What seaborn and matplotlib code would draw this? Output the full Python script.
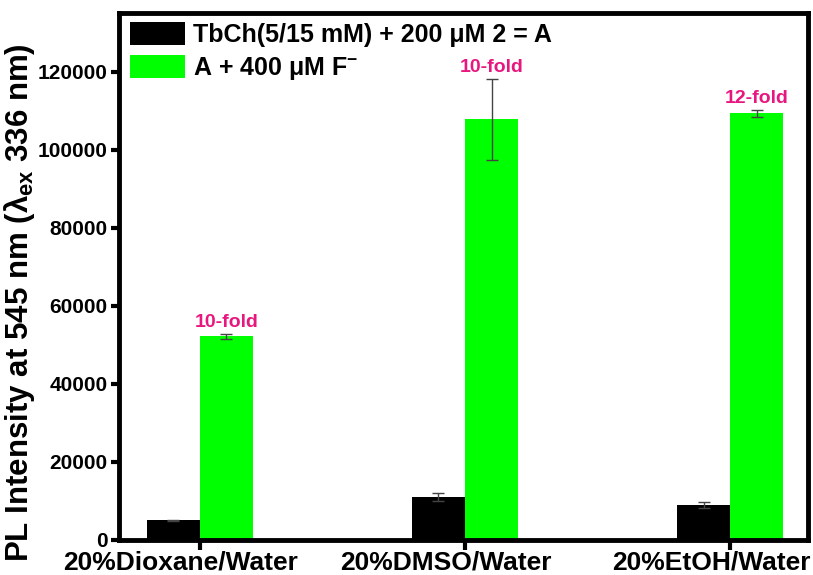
import matplotlib
matplotlib.use("Agg")
import matplotlib.pyplot as plt
import matplotlib.transforms as mtransforms
import seaborn as sns
import pandas as pd
from matplotlib.patches import Patch

categories = ["20%Dioxane/Water", "20%DMSO/Water", "20%EtOH/Water"]
series_names = ["TbCh(5/15 mM) + 200 μM 2 = A", r"A + 400 μM F$^{\mathbf{-}}$"]
base_values = [5000, 10900, 8900]
base_errors = [200, 1000, 700]
fluor_values = [52200, 107800, 109400]
fluor_errors = [700, 10300, 900]
fold_labels = ["10-fold", "10-fold", "12-fold"]
yticks = [0, 20000, 40000, 60000, 80000, 100000, 120000]

sns.set_theme(style="ticks")
plt.rcParams['font.family'] = ['Liberation Sans', 'DejaVu Sans']
plt.rcParams['font.weight'] = 'bold'
plt.rcParams['text.color'] = 'black'
plt.rcParams['axes.labelcolor'] = 'black'
plt.rcParams['xtick.color'] = 'black'
plt.rcParams['ytick.color'] = 'black'
plt.rcParams['mathtext.fontset'] = 'custom'
plt.rcParams['mathtext.rm'] = 'Liberation Sans:bold'
plt.rcParams['mathtext.bf'] = 'Liberation Sans:bold'
plt.rcParams['mathtext.it'] = 'Liberation Sans:bold'

df = pd.DataFrame({
    "category": categories * 2,
    "series": [series_names[0]] * 3 + [series_names[1]] * 3,
    "value": base_values + fluor_values,
})
errs = {series_names[0]: base_errors, series_names[1]: fluor_errors}
colors = ["#000000", "#00FF00"]

fig = plt.figure(figsize=(8.13, 5.75), dpi=100)
ax = fig.add_axes([0.146, 0.061, 0.848, 0.916])
sns.barplot(data=df, x="category", y="value", hue="series", order=categories,
            hue_order=series_names, palette=colors, width=0.4, errorbar=None,
            saturation=1, legend=False, ax=ax, linewidth=0)

for cont, name in zip(ax.containers, series_names):
    for bar, e in zip(cont, errs[name]):
        cx = bar.get_x() + bar.get_width() / 2
        h = bar.get_height()
        ax.errorbar(cx, h, yerr=e, fmt="none", ecolor="#444444", elinewidth=1,
                    capsize=4, capthick=1, zorder=5)

for bar, lab, e in zip(ax.containers[1], fold_labels, fluor_errors):
    cx = bar.get_x() + bar.get_width() / 2
    ax.text(cx, bar.get_height() + e + 700, lab, ha="center", va="bottom",
            color="#E8177F", fontsize=14, fontweight="bold")

ax.set_xlim(-0.306, 2.294)
ax.set_ylim(0, 135000)
ax.set_yticks(yticks)
ax.set_yticklabels([str(t) for t in yticks], fontsize=15, fontweight="bold")
ax.set_xticks(range(len(categories)))
ax.set_xticklabels([])
# category labels, slightly left of their ticks as in the reference
shift = mtransforms.ScaledTranslation(-19 / 100, 0, fig.dpi_scale_trans)
lab_trans = mtransforms.blended_transform_factory(ax.transData, fig.transFigure) + shift
for i, cat in enumerate(categories):
    ax.text(i, 0.0104, cat, transform=lab_trans, ha="center", va="baseline",
            fontsize=19, fontweight="bold", clip_on=False)
ax.set_xlabel("")
ax.set_ylabel(r"PL Intensity at 545 nm ($\lambda_{\mathbf{ex}}$ 336 nm)", fontsize=22.5,
              fontweight="bold")
ax.yaxis.set_label_coords(-0.118, 0.45)
ax.tick_params(axis="y", direction="out", length=6, width=3, pad=2)
ax.tick_params(axis="x", direction="out", length=7, width=3, pad=1.5)
for s in ax.spines.values():
    s.set_visible(True)
    s.set_linewidth(3.5)
    s.set_color("black")

handles = [Patch(facecolor=c, edgecolor="none") for c in colors]
leg = ax.legend(handles, series_names, loc="upper left", bbox_to_anchor=(0.006, 0.998),
                frameon=False, handlelength=2.2, handleheight=1.08, handletextpad=0.32,
                labelspacing=0.3, prop={"size": 18, "weight": "bold"},
                borderaxespad=0.0, borderpad=0.3)

fig.savefig("out.png", dpi=100)
